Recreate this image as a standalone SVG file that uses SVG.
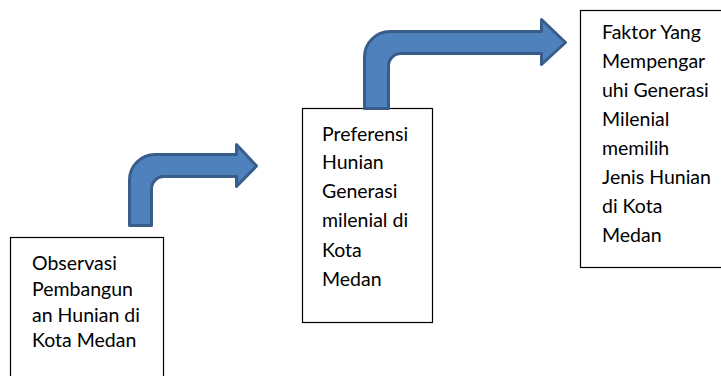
<svg xmlns="http://www.w3.org/2000/svg" width="721" height="376" viewBox="0 0 721 376">
<style>
.box{fill:#fff;stroke:#000;stroke-width:1.2}
.t{font-family:"Lato","Liberation Sans",sans-serif;font-size:19.5px;fill:#000}
.arr{fill:#4f81bd;stroke:#385d8a;stroke-width:3;stroke-linejoin:round}
</style>
<rect width="721" height="376" fill="#fff"/>
<g id="node1">
<rect class="box" x="10.5" y="237.5" width="153" height="160"/>
<text class="t"><tspan x="32" y="270">Observasi</tspan><tspan x="32" y="296">Pembangun</tspan><tspan x="32" y="322">an Hunian di</tspan><tspan x="32" y="347">Kota Medan</tspan></text>
</g>
<g id="node2">
<rect class="box" x="302.5" y="108.5" width="130" height="214"/>
<text class="t"><tspan x="322" y="141">Preferensi</tspan><tspan x="322" y="169">Hunian</tspan><tspan x="322" y="198">Generasi</tspan><tspan x="322" y="227">milenial di</tspan><tspan x="322" y="257">Kota</tspan><tspan x="322" y="286">Medan</tspan></text>
</g>
<g id="node3">
<rect class="box" x="580.5" y="10.5" width="160" height="257"/>
<text class="t"><tspan x="602" y="39">Faktor Yang</tspan><tspan x="602" y="68">Mempengar</tspan><tspan x="602" y="97">uhi Generasi</tspan><tspan x="602" y="126">Milenial</tspan><tspan x="602" y="155">memilih</tspan><tspan x="602" y="184">Jenis Hunian</tspan><tspan x="602" y="213">di Kota</tspan><tspan x="602" y="242">Medan</tspan></text>
</g>
<g id="connectors">
<path class="arr" d="M129.5 225.5 L129.5 180 A25.5 25.5 0 0 1 155 154.5 L236.5 154.5 L236.5 144.5 L256.5 166 L236.5 186.5 L236.5 176.5 L164 176.5 A12.5 12.5 0 0 0 151.5 189 L151.5 225.5 Z"/>
<path class="arr" d="M364.5 108.5 L364.5 57 A25.5 25.5 0 0 1 390 31.5 L541.5 31.5 L541.5 19.5 L565.5 42.5 L541.5 64.5 L541.5 53.5 L401 53.5 A12.5 12.5 0 0 0 388.5 66 L388.5 108.5 Z"/>
</g>
</svg>
